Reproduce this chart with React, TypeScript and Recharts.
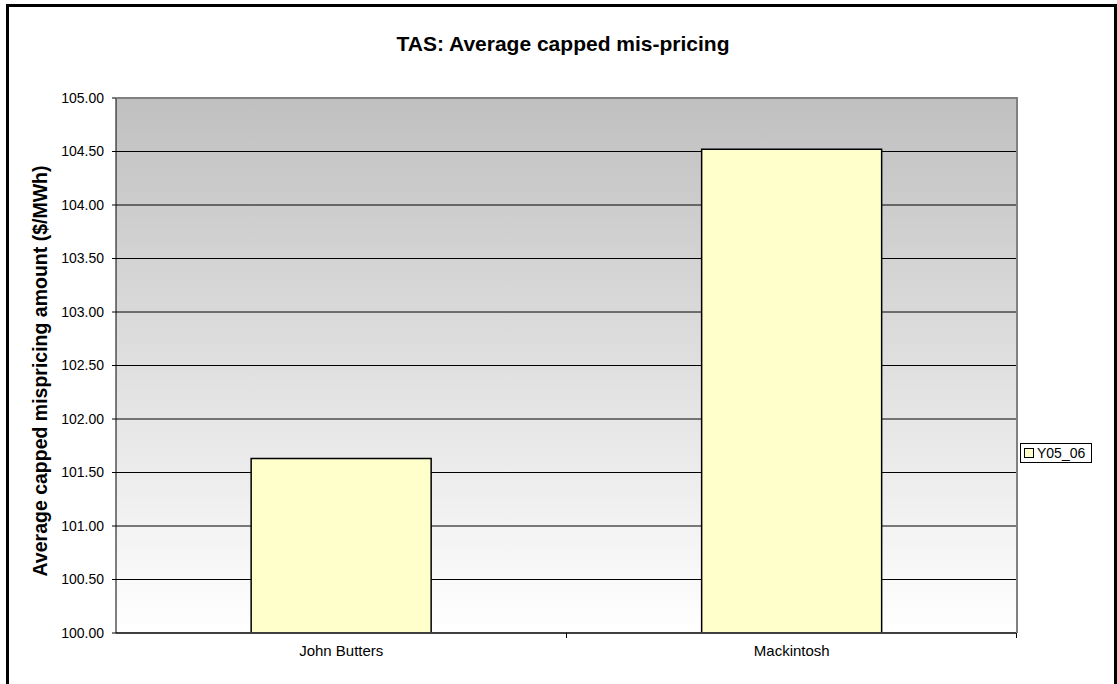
import { Bar, BarChart, CartesianGrid, XAxis, YAxis } from "recharts";

// TAS capped mis-pricing, one year
const STATIONS = ["John Butters", "Mackintosh"];
const Y05_06 = [101.63, 104.52];
const Y_TICKS = [100, 100.5, 101, 101.5, 102, 102.5, 103, 103.5, 104, 104.5, 105];

const FONT = "Arial, 'Liberation Sans', sans-serif";

const data = STATIONS.map((name, i) => ({ name, Y05_06: Y05_06[i] }));

export default function App() {
  return (
    <div style={{ position: "absolute", left: 0, top: 0, width: 1117, height: 684, overflow: "hidden", background: "#fff" }}>
      <svg width={0} height={0} style={{ position: "absolute" }}>
        <defs>
          <linearGradient id="plotBg" x1="0" y1="0" x2="0" y2="1">
            <stop offset="0%" stopColor="#c0c0c0" />
            <stop offset="100%" stopColor="#ffffff" />
          </linearGradient>
        </defs>
      </svg>
      <div
        style={{
          position: "absolute",
          left: 6,
          top: 4,
          width: 1105,
          height: 700,
          border: "3px solid #000",
        }}
      />
      <div
        style={{
          position: "absolute",
          left: 0,
          width: 1126,
          top: 32,
          textAlign: "center",
          fontFamily: FONT,
          fontWeight: "bold",
          fontSize: 21,
        }}
      >
        TAS: Average capped mis-pricing
      </div>
      <div
        style={{
          position: "absolute",
          left: 40,
          top: 371,
          transform: "translate(-50%, -50%) rotate(-90deg)",
          whiteSpace: "nowrap",
          fontFamily: FONT,
          fontWeight: "bold",
          fontSize: 19.5,
        }}
      >
        Average capped mispricing amount ($/MWh)
      </div>
      <div style={{ position: "absolute", left: 0, top: 0 }}>
        <BarChart
          width={1117}
          height={684}
          data={data}
          margin={{ top: 98, right: 100, bottom: 21, left: 56 }}
          barCategoryGap="30%"
        >
          <CartesianGrid vertical={false} stroke="#000" fill="url(#plotBg)" fillOpacity={1} />
          <XAxis
            dataKey="name"
            height={30}
            tick={{ fill: "#000", fontSize: 15, fontFamily: FONT }}
            tickLine={false}
            axisLine={{ stroke: "#404040", strokeWidth: 2 }}
            tickMargin={6}
          />
          <YAxis
            width={60}
            domain={[100, 105]}
            ticks={Y_TICKS}
            interval={0}
            allowDataOverflow
            tickFormatter={(v: number) => v.toFixed(2)}
            tick={{ fill: "#000", fontSize: 14, fontFamily: FONT }}
            tickLine={{ stroke: "#000" }}
            tickSize={4}
            tickMargin={8}
            axisLine={{ stroke: "#000" }}
          />
          <Bar dataKey="Y05_06" fill="#ffffcc" stroke="#000" strokeWidth={1.5} isAnimationActive={false} />
        </BarChart>
      </div>
      {/* plot frame top/right + category divider ticks */}
      <div style={{ position: "absolute", left: 116, top: 97, width: 902, height: 536, borderTop: "2px solid #808080", borderRight: "2px solid #808080", boxSizing: "border-box", pointerEvents: "none" }} />
      <div style={{ position: "absolute", left: 566, top: 633, width: 1, height: 5, background: "#000" }} />
      <div style={{ position: "absolute", left: 1016, top: 633, width: 1, height: 5, background: "#000" }} />
      {/* legend */}
      <div
        style={{
          position: "absolute",
          left: 1020,
          top: 443,
          border: "1px solid #000",
          padding: "1px 6px 1px 3px",
          fontFamily: FONT,
          fontSize: 14,
          display: "flex",
          alignItems: "center",
          background: "#fff",
        }}
      >
        <span
          style={{
            width: 8,
            height: 8,
            border: "1px solid #000",
            background: "#ffffcc",
            marginRight: 3,
            display: "inline-block",
          }}
        />
        Y05_06
      </div>
    </div>
  );
}
